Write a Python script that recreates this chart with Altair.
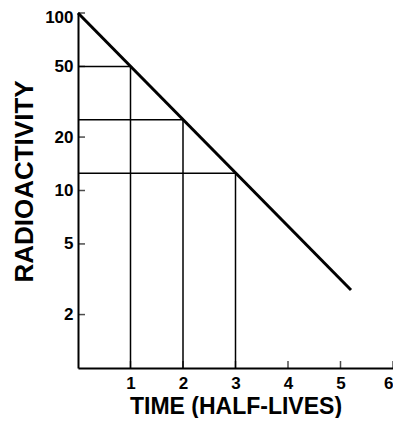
import altair as alt
import pandas as pd

# Data
decay_t = [0, 5.2]
decay_a = [100, 2.75]
half_t = [1, 2, 3]
half_a = [50, 25, 12.5]
x_ticks = [1, 2, 3, 4, 5, 6]
y_ticks = [2, 5, 10, 20, 50, 100]

decay = pd.DataFrame({"t": decay_t, "a": decay_a})
halves = pd.DataFrame({"t": half_t, "a": half_a, "t0": [0] * len(half_t), "a0": [1] * len(half_t)})
xt = pd.DataFrame({"t": x_ticks, "a": [1] * len(x_ticks)})
yt = pd.DataFrame({"a": y_ticks, "t": [0] * len(y_ticks)})

xs = alt.Scale(domain=[0, 6], nice=False, zero=False)
ys = alt.Scale(type="log", domain=[1, 100], nice=False)

FONT = "Liberation Sans"

xaxis = alt.Axis(
    title="TIME (HALF-LIVES)", values=x_ticks, ticks=False, grid=False,
    labelFontSize=17, labelFontWeight="bold", labelFont=FONT, labelColor="black",
    labelPadding=7, titleFontSize=23, titleFontWeight="bold", titleFont=FONT,
    titleColor="black", titlePadding=4, domainColor="black", domainWidth=2)
yaxis = alt.Axis(
    title="RADIOACTIVITY", values=y_ticks, ticks=False, grid=False,
    labelFontSize=17, labelFontWeight="bold", labelFont=FONT, labelColor="black",
    labelPadding=5,
    labelOffset={"condition": {"test": "datum.value == 100", "value": 4}, "value": 0},
    titleFontSize=26, titleFontWeight="bold", titleFont=FONT,
    titleColor="black", titlePadding=7, titleY=168, domainColor="black", domainWidth=2)

line = alt.Chart(decay).mark_line(color="black", strokeWidth=3).encode(
    x=alt.X("t:Q", scale=xs, axis=xaxis),
    y=alt.Y("a:Q", scale=ys, axis=yaxis),
)
hrules = alt.Chart(halves).mark_rule(color="black", strokeWidth=1.5).encode(
    x=alt.X("t0:Q", scale=xs, axis=xaxis), x2="t:Q",
    y=alt.Y("a:Q", scale=ys, axis=yaxis),
)
vrules = alt.Chart(halves).mark_rule(color="black", strokeWidth=1.5).encode(
    x=alt.X("t:Q", scale=xs, axis=xaxis),
    y=alt.Y("a0:Q", scale=ys, axis=yaxis), y2="a:Q",
)
xtick = alt.Chart(xt).mark_tick(orient="vertical", color="black", size=7, thickness=1.5, yOffset=-3.5).encode(
    x=alt.X("t:Q", scale=xs, axis=xaxis),
    y=alt.Y("a:Q", scale=ys, axis=yaxis),
)
ytick = alt.Chart(yt).mark_tick(orient="horizontal", color="black", size=7, thickness=1.5, xOffset=3.5).encode(
    x=alt.X("t:Q", scale=xs, axis=xaxis),
    y=alt.Y("a:Q", scale=ys, axis=yaxis),
)

chart = alt.layer(line, hrules, vrules, xtick, ytick).properties(
    width=315, height=355,
    autosize=alt.AutoSizeParams(type="none"),
    padding={"left": 70, "top": 5, "right": 0, "bottom": 50},
    background="white",
).configure_view(stroke=None)

chart.save("out.html", embed_options={"renderer": "svg", "actions": False})
